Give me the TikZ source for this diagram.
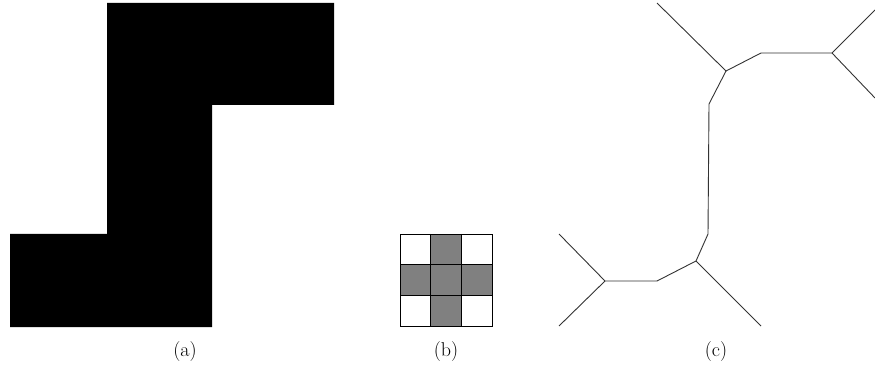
\documentclass[tikz,border=0pt]{standalone}
\begin{document}
\begin{tikzpicture}[x=1pt,y=-1pt,
  skel/.style={draw=black!80, line width=0.9pt},
  cell/.style={draw=black, line width=0.8pt},
  lbl/.style={font=\fontsize{20}{24}\selectfont, inner sep=0pt}]
\useasboundingbox (0,0) rectangle (875,371);
% (a)
\fill[black] (107,3) -- (334,3) -- (334,105) -- (212,105) -- (212,327) -- (10,327) -- (10,234) -- (107,234) -- cycle;
% (b)
\def\c{30.67}
\fill[black!50] (400+\c,234) rectangle (400+2*\c,326);
\fill[black!50] (400,234+\c) rectangle (492,234+2*\c);
\draw[cell] (400+\c,234) -- (400+\c,326);
\draw[cell] (400+2*\c,234) -- (400+2*\c,326);
\draw[cell] (400,234+\c) -- (492,234+\c);
\draw[cell] (400,234+2*\c) -- (492,234+2*\c);
\draw[cell] (400,234) rectangle (492,326);
% (c)
\coordinate (tl) at (657,3);
\coordinate (j1) at (726,71);
\coordinate (p1) at (761,53);
\coordinate (j2) at (832,53);
\coordinate (tr) at (875,10);
\coordinate (br) at (875,98);
\coordinate (p2) at (709,104);
\coordinate (p3) at (708,234);
\coordinate (j3) at (696,261);
\coordinate (p4) at (657,281);
\coordinate (j4) at (605,281);
\coordinate (ul) at (559,234);
\coordinate (ll) at (559,326);
\coordinate (lr) at (761,326);
\draw[skel] (tl) -- (j1) -- (p1) -- (j2) -- (tr);
\draw[skel] (j2) -- (br);
\draw[skel] (j1) -- (p2) -- (p3) -- (j3) -- (p4) -- (j4) -- (ul);
\draw[skel] (j4) -- (ll);
\draw[skel] (j3) -- (lr);
% labels
\node[lbl] (la) at (185,352) {(a)};
\node[lbl] (lb) at (446,352) {(b)};
\node[lbl] (lc) at (716,352) {(c)};
\end{tikzpicture}
\end{document}
